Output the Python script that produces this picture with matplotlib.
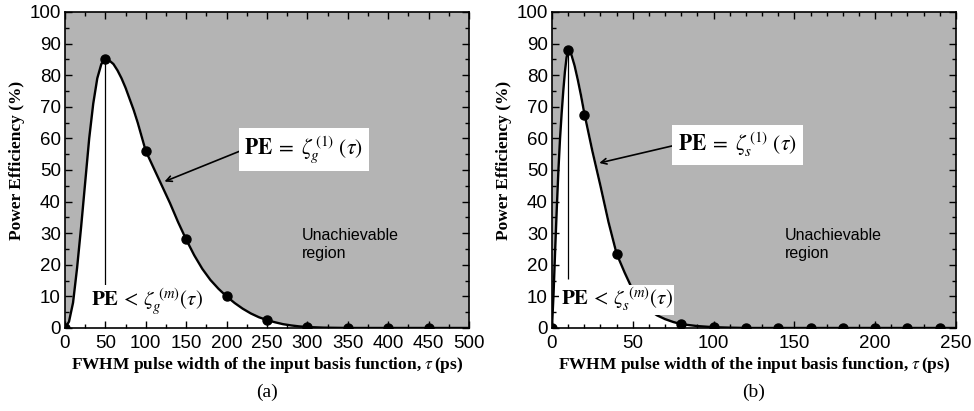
import matplotlib
matplotlib.use('Agg')
import matplotlib.pyplot as plt
from matplotlib.ticker import MultipleLocator

plt.rcParams['font.family'] = ['Liberation Sans', 'DejaVu Sans']
plt.rcParams['mathtext.fontset'] = 'stix'

# panel (a): gaussian basis, curve
tau_a = [0, 5, 10, 15, 20, 25, 30, 35, 40, 45, 50, 55, 60, 65, 70, 75, 80, 85, 90, 95,
         100, 110, 120, 130, 140, 150, 160, 170, 180, 190, 200, 210, 220, 230, 240,
         250, 260, 270, 280, 290, 300, 320, 350, 400, 450, 500]
pe_a = [0, 2, 8, 19, 32, 46, 60, 71, 79, 83.5, 85, 84.6, 83.5, 81.5, 79, 76, 72.5, 69,
        65, 60.5, 56, 50.5, 45, 39.5, 33.5, 28, 23, 18.7, 15.2, 12.4, 10, 7.9, 6.1,
        4.6, 3.4, 2.5, 1.8, 1.2, 0.8, 0.5, 0.3, 0.1, 0, 0, 0, 0]
pts_a_x = [0, 50, 100, 150, 200, 250, 300, 350, 400, 450]
pts_a_y = [0, 85, 56, 28, 10, 2.5, 0.3, 0, 0, 0]

# panel (b): sech basis
tau_b = [0, 1, 2, 3, 4, 5, 6, 7, 8, 9, 10, 11, 12, 14, 16, 18, 20, 25, 30, 35, 40, 45,
         50, 55, 60, 65, 70, 75, 80, 90, 100, 110, 120, 250]
pe_b = [0, 11, 25, 38, 50, 60, 68, 75, 81, 85.5, 88, 88, 86.5, 83, 78.5, 73.5, 68, 56,
        45, 33.5, 23.5, 17.5, 12, 8.5, 5.8, 4, 2.8, 1.9, 1.2, 0.6, 0.25, 0.1, 0, 0]
pts_b_x = [0, 10, 20, 40, 80, 100, 120, 140, 160, 180, 200, 220, 240]
pts_b_y = [0, 88, 67.5, 23.5, 1.2, 0.2, 0, 0, 0, 0, 0, 0, 0]

gray = '#b4b4b4'
xlabel = r'FWHM pulse width of the input basis function, $\tau\,$(ps)'


def draw_panel(ax, tau, pe, px, py, peak, xmax, xminor, eq, lt, eq_xy, arrow_xy,
               lt_xy, region_xy, tag):
    ax.set_facecolor(gray)
    ax.fill_between(tau, 0, pe, color='white', zorder=1)
    ax.plot(tau, pe, color='black', lw=1.7, zorder=3)
    ax.plot(px, py, 'o', color='black', ms=6.5, zorder=4)
    ax.vlines(peak[0], peak[2], peak[1], color='black', lw=0.9, zorder=2)
    ax.set_xlim(0, xmax)
    ax.set_ylim(0, 100)
    ax.xaxis.set_major_locator(MultipleLocator(50))
    ax.xaxis.set_minor_locator(MultipleLocator(xminor))
    ax.yaxis.set_major_locator(MultipleLocator(10))
    ax.yaxis.set_minor_locator(MultipleLocator(5))
    ax.tick_params(which='both', direction='in', top=True, right=True, labelsize=13.5)
    ax.tick_params(axis='x', pad=5)
    ax.tick_params(axis='y', pad=3)
    ax.tick_params(which='major', length=5, width=1)
    ax.tick_params(which='minor', length=3, width=1)
    for s in ax.spines.values():
        s.set_linewidth(1.2)
    ax.set_xlabel(xlabel, family='Liberation Serif', fontweight='bold', fontsize=12.5,
                  labelpad=2)
    ax.set_ylabel('Power Efficiency (%)', family='Liberation Serif', fontweight='bold',
                  fontsize=12.5)
    ax.yaxis.set_label_coords(-0.1, 0.53)
    ax.annotate('', xy=arrow_xy, xytext=(eq_xy[0] - 0.3, eq_xy[1]),
                arrowprops=dict(arrowstyle='->', color='black', lw=1.2), zorder=5)
    ax.text(eq_xy[0], eq_xy[1], eq, fontsize=15.5, ha='left', va='center', zorder=6,
            bbox=dict(facecolor='white', edgecolor='none', pad=4))
    ax.text(lt_xy[0], lt_xy[1], lt, fontsize=15, ha='center', va='center', zorder=6,
            bbox=dict(facecolor='white', edgecolor='none', pad=1))
    ax.text(region_xy[0], region_xy[1], 'Unachievable\nregion', fontsize=11.5,
            ha='left', va='top', linespacing=1.2)
    ax.text(0.5, -0.205, tag, transform=ax.transAxes, family='Liberation Serif',
            fontsize=14, ha='center', va='center')


fig = plt.figure(figsize=(9.74, 4.11), dpi=100)
ax1 = fig.add_axes([0.0667, 0.202, 0.4148, 0.769])
ax2 = fig.add_axes([0.5667, 0.202, 0.4148, 0.769])

draw_panel(ax1, tau_a, pe_a, pts_a_x, pts_a_y, (50, 85, 13), 500, 25,
           r'$\mathbf{PE}\;=\;\zeta_g^{\,(1)}\ (\tau)$',
           r'$\mathbf{PE}\,<\,\zeta_g^{\ (m)}(\tau)$',
           (222, 56.5), (120, 46), (102, 8.2), (293, 31.5), '(a)')
draw_panel(ax2, tau_b, pe_b, pts_b_x, pts_b_y, (10, 88, 15.5), 250, 10,
           r'$\mathbf{PE}\;=\;\zeta_s^{\,(1)}\ (\tau)$',
           r'$\mathbf{PE}\,<\,\zeta_s^{\ (m)}(\tau)$',
           (78, 58), (27.6, 52), (40, 9), (144, 31.5), '(b)')

fig.savefig('out.png', dpi=100)
